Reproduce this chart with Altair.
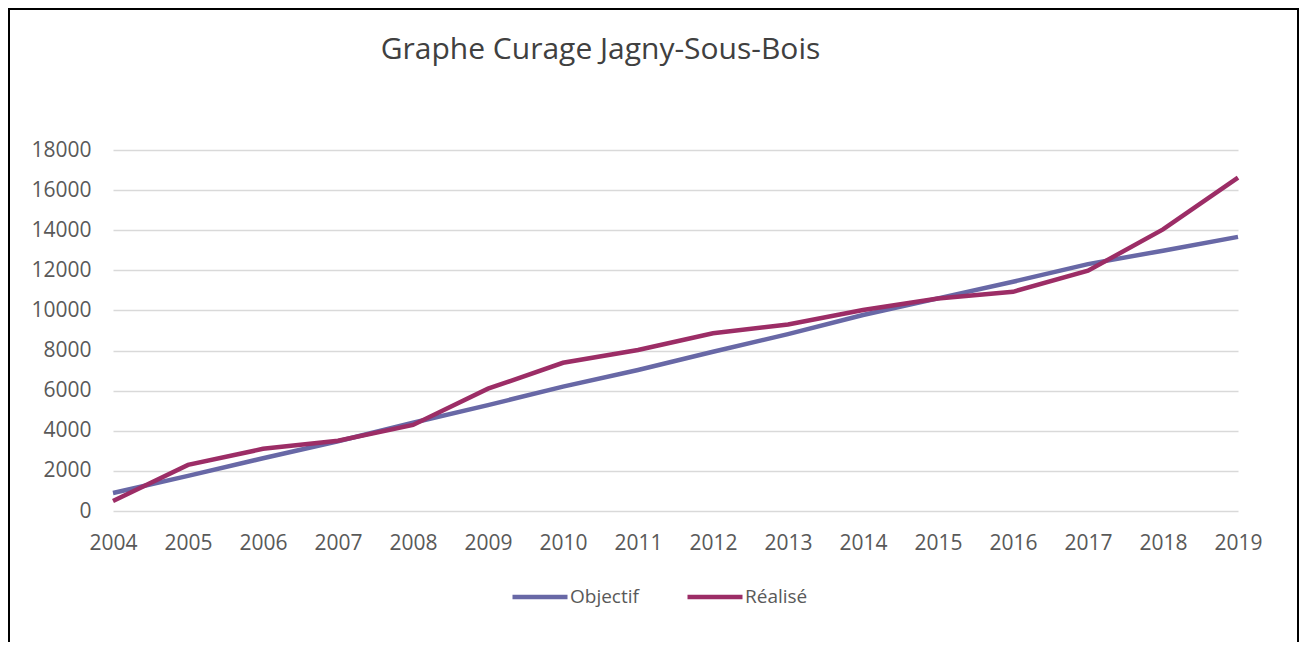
import altair as alt
import pandas as pd

years = list(range(2004, 2020))
objectif = [900, 1750, 2630, 3480, 4400, 5280, 6200, 7030, 7940, 8820, 9770, 10600, 11430, 12310, 12980, 13670]
realise = [500, 2300, 3100, 3500, 4290, 6100, 7390, 8030, 8860, 9300, 10020, 10600, 10930, 11980, 14040, 16620]
series_names = ["Objectif", "Réalisé"]
series_colors = ["#6868A6", "#9C2D66"]

rows = []
for name, vals in zip(series_names, [objectif, realise]):
    for y, v in zip(years, vals):
        rows.append({"Année": y, "Valeur": v, "Série": name})
df = pd.DataFrame(rows)

FONT = "Open Sans"
TXT = "#595959"

lines = alt.Chart(df).mark_line(strokeWidth=4.5).encode(
    x=alt.X("Année:Q",
            scale=alt.Scale(domain=[2004, 2019], nice=False, zero=False),
            axis=alt.Axis(values=years, format="d", title=None, labelAngle=0,
                          grid=False, ticks=False, domain=False,
                          labelPadding=21, labelFontSize=21, labelColor=TXT,
                          labelFont=FONT, labelFlush=False)),
    y=alt.Y("Valeur:Q",
            scale=alt.Scale(domain=[0, 18000], nice=False),
            axis=alt.Axis(values=list(range(0, 18001, 2000)), format="d", title=None,
                          ticks=False, domain=False, gridColor="#d9d9d9", gridWidth=1.5,
                          labelPadding=22, labelFontSize=21, labelColor=TXT,
                          labelFont=FONT)),
    color=alt.Color("Série:N",
                    scale=alt.Scale(domain=series_names, range=series_colors),
                    legend=alt.Legend(title=None, orient="none", direction="horizontal",
                                      legendX=397, legendY=417,
                                      symbolType="stroke", symbolSize=3025,
                                      symbolStrokeWidth=4.5, labelFontSize=19,
                                      labelColor=TXT, labelFont=FONT, labelOffset=0,
                                      columnPadding=39)),
)

border = alt.Chart(alt.Data(values=[{}])).mark_rect(
    fill=None, fillOpacity=0, stroke="#000000", strokeWidth=2
).encode(
    x=alt.value(-104), x2=alt.value(1185), y=alt.value(-141), y2=alt.value(600)
)

chart = alt.layer(border, lines).properties(
    width=1125, height=361,
    padding={"left": 105, "top": 142, "right": 61, "bottom": 131},
    autosize=alt.AutoSizeParams(type="none"),
    title=alt.TitleParams("Graphe Curage Jagny-Sous-Bois", fontSize=30, font=FONT,
                          fontWeight="normal", color="#404040", anchor="middle",
                          dx=-75, offset=-57),
).configure_view(stroke=None)

chart.save("out.html", embed_options={"renderer": "svg", "actions": False})
